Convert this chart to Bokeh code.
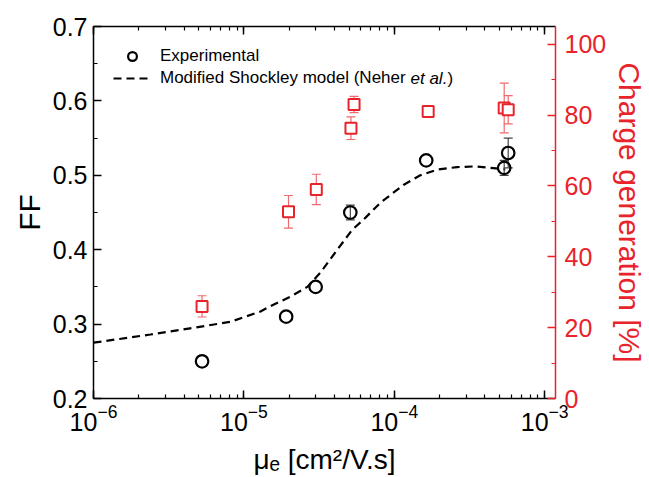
from bokeh.plotting import figure
from bokeh.models import (Range1d, LinearAxis, LogAxis, LogTicker, SingleIntervalTicker,
                          PrintfTickFormatter, CustomJSTickFormatter, Legend, LegendItem,
                          Label)
from bokeh.embed import file_html
from bokeh.resources import INLINE

# ---- data ----
exp_mu = [5.27e-6, 1.91e-5, 3.0e-5, 5.1e-5, 1.63e-4, 5.38e-4, 5.72e-4]
exp_ff = [0.25, 0.31, 0.35, 0.45, 0.52, 0.51, 0.53]
exp_err = [0.0, 0.0, 0.0, 0.01, 0.0, 0.01, 0.02]

cg_mu = [5.27e-6, 1.98e-5, 3.03e-5, 5.15e-5, 5.4e-5, 1.68e-4, 5.38e-4, 5.72e-4]
cg_val = [26.0, 52.7, 59.0, 76.3, 83.0, 81.0, 82.0, 81.5]
cg_err = [3.0, 4.6, 4.3, 3.2, 2.3, 0.8, 7.0, 4.0]

model_mu = [1.0e-6, 2.39e-6, 4.61e-6, 8.13e-6, 1.29e-5, 1.50e-5, 2.04e-5, 2.64e-5,
            3.22e-5, 4.18e-5, 5.26e-5, 6.22e-5, 8.07e-5, 1.15e-4, 1.49e-4, 1.96e-4,
            2.62e-4, 3.45e-4, 4.35e-4, 5.47e-4]
model_ff = [0.275, 0.286, 0.295, 0.303, 0.317, 0.324, 0.337, 0.350,
            0.369, 0.400, 0.427, 0.440, 0.463, 0.487, 0.500, 0.508,
            0.511, 0.512, 0.510, 0.508]

x_lim = (1e-6, 1.18e-3)
ff_lim = (0.2, 0.7)
cg_lim = (0.0, 105.0)

RED = "#e8232b"
RED_LIGHT = "#ef6a6e"
FONT = "Liberation Sans"

p = figure(width=649, height=477, x_axis_type="log",
           x_range=Range1d(*x_lim), y_range=Range1d(ff_lim[0], ff_lim[1] + 1e-9),
           output_backend="svg", toolbar_location=None,
           min_border_left=93, min_border_right=93, min_border_top=26, min_border_bottom=78)
p.background_fill_color = "white"
p.border_fill_color = "white"
p.outline_line_color = None
p.grid.visible = False
p.extra_y_ranges = {"cg": Range1d(*cg_lim)}

def style_axis(ax, color):
    ax.axis_line_color = color
    ax.axis_line_width = 1.5
    ax.major_tick_line_color = color
    ax.minor_tick_line_color = color
    ax.major_tick_line_width = 1.5
    ax.minor_tick_line_width = 1.2
    ax.major_tick_in = 8
    ax.major_tick_out = 0
    ax.minor_tick_in = 4
    ax.minor_tick_out = 0
    ax.major_label_text_font = FONT
    ax.major_label_text_font_size = "25px"
    ax.major_label_text_color = color
    ax.axis_label_text_font = FONT
    ax.axis_label_text_font_style = "normal"
    ax.axis_label_text_color = color

# bottom axis
xa = p.xaxis[0]
xa.ticker = LogTicker(mantissas=[1], desired_num_ticks=4, num_minor_ticks=10)
style_axis(xa, "black")
xa.axis_label = "μₑ [cm²/V.s]"
xa.axis_label_text_font_size = "28px"
xa.major_label_standoff = 5
xa.axis_label_standoff = 10

# left axis
ya = p.yaxis[0]
ya.ticker = SingleIntervalTicker(interval=0.1, num_minor_ticks=2)
ya.formatter = PrintfTickFormatter(format="%.1f")
style_axis(ya, "black")
ya.axis_label = "FF"
ya.axis_label_text_font_size = "30px"
ya.major_label_standoff = 6
ya.axis_label_standoff = 4

# top axis (ticks only)
top = LogAxis(ticker=LogTicker(mantissas=[1], desired_num_ticks=4, num_minor_ticks=10),
              formatter=CustomJSTickFormatter(code="return ''"))
style_axis(top, "black")
top.major_label_text_font_size = "0px"
top.major_label_standoff = 0
p.add_layout(top, "above")

# right axis
ra = LinearAxis(y_range_name="cg",
                ticker=SingleIntervalTicker(interval=20, num_minor_ticks=2))
style_axis(ra, RED)
ra.axis_label = "Charge generation [%]"
ra.axis_label_text_font_size = "30px"
ra.major_label_standoff = 9
ra.axis_label_standoff = 4
p.add_layout(ra, "right")

# ---- model curve ----
line_r = p.line(model_mu, model_ff, line_color="black", line_width=2.2, line_dash="8 5")

# ---- charge generation with error bars ----
cg_lo = [v - e for v, e in zip(cg_val, cg_err)]
cg_hi = [v + e for v, e in zip(cg_val, cg_err)]
p.segment(x0=cg_mu, y0=cg_lo, x1=cg_mu, y1=cg_hi, line_color=RED_LIGHT, line_width=1.2,
          y_range_name="cg")
p.scatter(cg_mu + cg_mu, cg_lo + cg_hi, marker="dash", size=9, line_color=RED_LIGHT,
          line_width=1.2, y_range_name="cg")
p.scatter(cg_mu, cg_val, marker="square", size=11, line_color=RED, line_width=2,
          fill_color="white", y_range_name="cg")

# ---- experimental FF with error bars ----
ex_mu_e = [m for m, e in zip(exp_mu, exp_err) if e > 0]
ex_lo = [v - e for v, e in zip(exp_ff, exp_err) if e > 0]
ex_hi = [v + e for v, e in zip(exp_ff, exp_err) if e > 0]
p.segment(x0=ex_mu_e, y0=ex_lo, x1=ex_mu_e, y1=ex_hi, line_color="#444444", line_width=1.2)
p.scatter(ex_mu_e + ex_mu_e, ex_lo + ex_hi, marker="dash", size=9, line_color="#444444",
          line_width=1.2)
circ_r = p.scatter(exp_mu, exp_ff, marker="circle", size=12.5, line_color="black",
                   line_width=2.2, fill_color="white", fill_alpha=0)

# ---- legend ----
legend = Legend(items=[LegendItem(label="Experimental", renderers=[circ_r]),
                       LegendItem(label="Modified Shockley model (Neher", renderers=[line_r])],
                location=(20, 309), orientation="vertical")
legend.label_text_font = FONT
legend.label_text_font_size = "17px"
legend.label_text_color = "black"
legend.glyph_width = 38
legend.glyph_height = 22
legend.label_height = 22
legend.label_standoff = 9
legend.spacing = 0
legend.padding = 0
legend.margin = 0
legend.border_line_color = None
legend.background_fill_alpha = 0
p.add_layout(legend)

p.add_layout(Label(x=317, y=320, x_units="screen", y_units="screen", text="et al.",
                   text_font=FONT, text_font_size="17px", text_font_style="italic",
                   text_color="black", text_baseline="middle"))
p.add_layout(Label(x=354, y=320, x_units="screen", y_units="screen", text=")",
                   text_font=FONT, text_font_size="17px", text_color="black",
                   text_baseline="middle"))

open("out.html", "w").write(file_html(p, INLINE))
